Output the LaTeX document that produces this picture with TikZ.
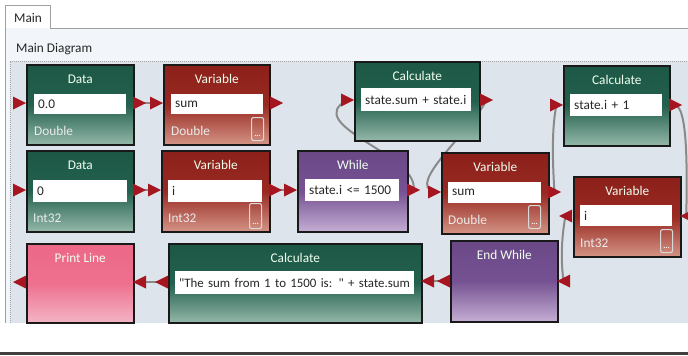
\documentclass[tikz,border=0pt]{standalone}
\usepackage{fontspec}
\setmainfont{Carlito}
\usetikzlibrary{calc}
\definecolor{portred}{RGB}{165,22,32}
\definecolor{wirec}{RGB}{138,138,138}
\definecolor{gTop}{RGB}{29,88,70}
\definecolor{gMid}{RGB}{36,96,78}
\definecolor{gBot}{RGB}{148,184,170}
\definecolor{rTop}{RGB}{140,32,26}
\definecolor{rMid}{RGB}{152,42,34}
\definecolor{rBot}{RGB}{212,148,134}
\definecolor{pTop}{RGB}{106,72,134}
\definecolor{pMid}{RGB}{118,82,146}
\definecolor{pBot}{RGB}{196,174,212}
\definecolor{kTop}{RGB}{236,104,136}
\definecolor{kMid}{RGB}{238,112,142}
\definecolor{kBot}{RGB}{244,180,198}
\definecolor{paneltop}{RGB}{242,246,250}
\definecolor{diagbg}{RGB}{222,228,236}
\definecolor{tabline}{RGB}{160,160,160}
\pgfdeclarelayer{back}
\pgfdeclarelayer{edges}
\pgfsetlayers{back,edges,main}
\newcommand\pR[3]{\coordinate (#1) at ({#2+6.5},#3);
  \fill[portred] (#2,{#3-6.5}) -- ({#2+13},#3) -- (#2,{#3+6.5}) -- cycle;}
\newcommand\pL[3]{\coordinate (#1) at ({#2+6.5},#3);
  \fill[portred] ({#2+13},{#3-6.5}) -- (#2,#3) -- ({#2+13},{#3+6.5}) -- cycle;}
\tikzset{
  blk/.style={rectangle, draw=black!90, line width=1.6pt, anchor=north west, inner sep=0pt},
  gblk/.style={blk, top color=gTop, bottom color=gBot, middle color=gMid},
  rblk/.style={blk, top color=rTop, bottom color=rBot, middle color=rMid},
  pblk/.style={blk, top color=pTop, bottom color=pBot, middle color=pMid},
  kblk/.style={blk, top color=kTop, bottom color=kBot, middle color=kMid},
  ttl/.style={anchor=base, text=white!94!green, font=\fontsize{13.3}{15}\selectfont, inner sep=0pt},
  fld/.style={fill=white, anchor=north west, inner xsep=4pt, inner ysep=0pt, align=left,
    font=\fontsize{13.3}{15}\selectfont, text=black!85},
  typ/.style={anchor=base west, text=white!92!black, font=\fontsize{13.3}{15}\selectfont, inner sep=0pt},
  ell/.style={draw=white!70!gray, line width=1.1pt, rounded corners=2pt, anchor=north west,
    minimum width=12pt, minimum height=23pt, inner sep=0pt},
  dots/.style={text=white, font=\fontsize{8}{8}\selectfont\bfseries, inner sep=0pt},
  wire/.style={draw=wirec, line width=2pt},
  ui/.style={font=\fontsize{13.3}{15}\selectfont, text=black!85, inner sep=0pt, anchor=base west}
}
\begin{document}
\begin{tikzpicture}[x=1pt,y=-1pt]
\useasboundingbox (0,0) rectangle (688,356);
\clip (0,0) rectangle (688,356);
\begin{pgfonlayer}{back}
\fill[white] (0,0) rectangle (688,356);
\fill[paneltop] (5,28) rectangle (688,323);
\fill[diagbg] (10,61) rectangle (688,323);
\draw[tabline, line width=1pt] (5,28) -- (5,323);
\draw[tabline, line width=1pt] (50,28) -- (688,28);
\fill[white] (5,5) rectangle (50,28);
\draw[tabline, line width=1pt] (5,28) -- (5,5) -- (50,5) -- (50,28);
\draw[gray!70, line width=0.8pt, dash pattern=on 1pt off 1pt] (10,323) -- (10,61) -- (688,61);
\draw[black!75, line width=2.5pt] (0,353.5) -- (688,353.5);
\end{pgfonlayer}
\node[ui] (tab) at (14,22) {Main};
\node[ui] (hdr) at (16,52) {Main Diagram};

% ---- row 1
\node[gblk, minimum width=107pt, minimum height=80pt] (data1) at (26,64) {};
\node[ttl] at ($(data1.north)+(0,19.5)$) {Data};
\node[fld, text width=84pt, minimum height=20pt] (data1f) at (34,94) {0.0};
\node[typ] at (34,135) {Double};

\node[rblk, minimum width=106pt, minimum height=80pt] (var1) at (163,64) {};
\node[ttl] at ($(var1.north)+(0,19.5)$) {Variable};
\node[fld, text width=84pt, minimum height=20pt] (var1f) at (171,94) {sum};
\node[typ] at (171,135) {Double};
\node[ell] (var1e) at (251,117) {};
\node[dots] at ($(var1e.south)+(0,-5)$) {...};

\node[gblk, minimum width=125pt, minimum height=79pt] (calc1) at (354,61) {};
\node[ttl] at ($(calc1.north)+(0,19.5)$) {Calculate};
\node[fld, text width=102pt, minimum height=23pt] (calc1f) at (361,88) {state.sum + state.i};

\node[gblk, minimum width=106pt, minimum height=80pt] (calc2) at (563,65) {};
\node[ttl] at ($(calc2.north)+(0,19.5)$) {Calculate};
\node[fld, text width=84pt, minimum height=22pt] (calc2f) at (570,94) {state.i + 1};

% ---- row 2
\node[gblk, minimum width=107pt, minimum height=81pt] (data2) at (26,150) {};
\node[ttl] at ($(data2.north)+(0,19.5)$) {Data};
\node[fld, text width=86pt, minimum height=22pt] (data2f) at (33,180) {0};
\node[typ] at (33,222) {Int32};

\node[rblk, minimum width=108pt, minimum height=81pt] (var2) at (161,150) {};
\node[ttl] at ($(var2.north)+(0,19.5)$) {Variable};
\node[fld, text width=86pt, minimum height=22pt] (var2f) at (168,180) {i};
\node[typ] at (168,222) {Int32};
\node[ell, minimum height=25pt] (var2e) at (249,203) {};
\node[dots] at ($(var2e.south)+(0,-5)$) {...};

\node[pblk, minimum width=110pt, minimum height=81pt] (while) at (297,150) {};
\node[ttl] at ($(while.north)+(0,19.5)$) {While};
\node[fld, text width=86pt, minimum height=22pt] (whilef) at (305,179) {state.i <= 1500};

\node[rblk, minimum width=107pt, minimum height=81pt] (var3) at (441,152) {};
\node[ttl] at ($(var3.north)+(0,19.5)$) {Variable};
\node[fld, text width=85pt, minimum height=21pt] (var3f) at (448,182) {sum};
\node[typ] at (448,224) {Double};
\node[ell] (var3e) at (528,205) {};
\node[dots] at ($(var3e.south)+(0,-5)$) {...};

\node[rblk, minimum width=107pt, minimum height=80pt] (var4) at (573,176) {};
\node[ttl] at ($(var4.north)+(0,19.5)$) {Variable};
\node[fld, text width=84pt, minimum height=21pt] (var4f) at (580,205) {i};
\node[typ] at (580,247) {Int32};
\node[ell] (var4e) at (660,229) {};
\node[dots] at ($(var4e.south)+(0,-5)$) {...};

% ---- row 3
\node[kblk, minimum width=107pt, minimum height=79pt] (print) at (26,243) {};
\node[ttl] at ($(print.north)+(0,19.5)$) {Print Line};

\node[gblk, minimum width=253pt, minimum height=79pt] (calc3) at (168,243) {};
\node[ttl] at ($(calc3.north)+(0,19.5)$) {Calculate};
\node[fld, text width=231pt, minimum height=23pt, font=\fontsize{12.9}{15}\selectfont] (calc3f) at (175,271)
  {\mbox{\textquotedbl The sum from 1 to 1500 is: \textquotedbl\ + state.sum}};

\node[pblk, minimum width=107pt, minimum height=81pt] (endw) at (450,240) {};
\node[ttl] at ($(endw.north)+(0,19.5)$) {End While};

% ---- ports
\pR{d1i}{13}{103} \pR{d1o}{133}{103} \pR{v1i}{150}{103} \pR{v1o}{270}{103}
\pR{c1i}{341}{100} \pR{c1o}{480}{100}
\pR{c2i}{550}{105} \pR{c2o}{669}{105}
\pR{d2i}{13}{190} \pR{d2o}{133}{190} \pR{v2i}{148}{190} \pR{v2o}{269}{190}
\pR{wi}{284}{190} \pR{wo}{407}{190}
\pR{v3i}{428}{192} \pR{v3o}{548}{192}
\pL{v4i}{680}{216} \pL{v4o}{559}{216}
\pL{ewi}{557}{281} \pL{ewo}{437}{281}
\pL{c3i}{421}{281} \pL{c3o}{155}{282}
\pL{pi}{133}{282} \pL{po}{13}{282}

% ---- connectors
\begin{pgfonlayer}{edges}
\draw[wire] (d1o) -- (v1i);
\draw[wire] (d2o) -- (v2i);
\draw[wire] (v2o) -- (wi);
\draw[wire] (wo) .. controls (420,155) and (300,125) .. (c1i);
\draw[wire] (c1o) .. controls (472,130) and (405,185) .. (v3i);
\draw[wire] (v3o) .. controls (553,170) and (551,130) .. (c2i);
\draw[wire] (c2o) .. controls (690,110) and (686,195) .. (v4i);
\draw[wire] (v4o) .. controls (561,240) and (561,262) .. (ewi);
\draw[wire] (ewo) -- (c3i);
\draw[wire] (c3o) -- (pi);
\end{pgfonlayer}
\end{tikzpicture}
\end{document}
